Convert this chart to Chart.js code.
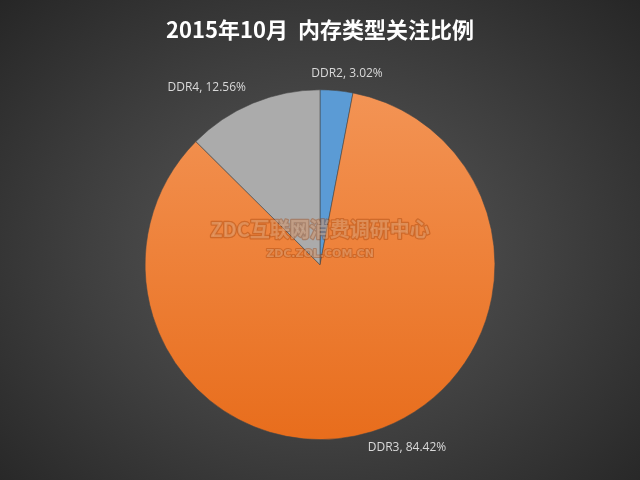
<!DOCTYPE html>
<html>
<head>
<meta charset="utf-8">
<script src="https://cdn.jsdelivr.net/npm/chart.js@4/dist/chart.umd.min.js"></script>
<style>
  html, body { margin: 0; padding: 0; }
  body {
    width: 640px; height: 480px; overflow: hidden;
    background: radial-gradient(ellipse 70% 75% at 50% 52%, #5a5a5a 0%, #3e3e3e 55%, #262626 100%);
  }
  #wrap { width: 640px; height: 480px; }
</style>
</head>
<body>
<div id="wrap"><canvas id="memChart"></canvas></div>
<script>
// 2015年10月 内存类型关注比例
const titleText = '2015年10月  内存类型关注比例';
const categories = ['DDR2', 'DDR3', 'DDR4'];
const shares = [3.02, 84.42, 12.56];
const watermarkMain = 'ZDC互联网消费调研中心';
const watermarkSub = 'ZDC.ZOL.COM.CN';

const CJK = '"Noto Sans CJK SC", "Noto Sans", sans-serif';
const sliceColors = ['#5B9BD5', null, '#ABABAB'];

// orange slice gets a soft vertical gradient like the Excel original
function sliceFill(ctx) {
    if (ctx.dataIndex !== 1) return sliceColors[ctx.dataIndex];
    const area = ctx.chart.chartArea;
    if (!area) return '#ED7D31';
    const g = ctx.chart.ctx.createLinearGradient(0, area.top, 0, area.bottom);
    g.addColorStop(0, '#F39455');
    g.addColorStop(1, '#E86D1C');
    return g;
}

const outsideLabels = {
    id: 'outsideLabels',
    afterDatasetsDraw(chart) {
        const ctx = chart.ctx;
        const meta = chart.getDatasetMeta(0);
        ctx.save();
        ctx.font = '12px "Open Sans", "Noto Sans", sans-serif';
        ctx.fillStyle = '#d9d9d9';
        ctx.textAlign = 'center';
        ctx.textBaseline = 'middle';
        meta.data.forEach((arc, i) => {
            const mid = (arc.startAngle + arc.endAngle) / 2;
            const text = categories[i] + ', ' + shares[i].toFixed(2) + '%';
            const w = ctx.measureText(text).width;
            const d = arc.outerRadius + 10;
            const x = arc.x + Math.cos(mid) * d + Math.cos(mid) * w * 1.4;
            const y = arc.y + Math.sin(mid) * d + Math.sin(mid) * 7;
            ctx.fillText(text, x, y);
        });
        ctx.restore();
    }
};

const watermark = {
    id: 'watermark',
    afterDraw(chart) {
        const ctx = chart.ctx;
        const a = chart.chartArea;
        const cx = (a.left + a.right) / 2;
        ctx.save();
        ctx.textAlign = 'center';
        ctx.textBaseline = 'middle';
        ctx.lineJoin = 'round';
        ctx.font = 'bold 20px ' + CJK;
        ctx.lineWidth = 2.5;
        ctx.strokeStyle = 'rgba(160, 65, 10, 0.4)';
        ctx.strokeText(watermarkMain, cx, 229);
        ctx.fillStyle = 'rgba(255, 225, 195, 0.3)';
        ctx.fillText(watermarkMain, cx, 229);
        ctx.font = 'bold 11px "DejaVu Sans", sans-serif';
        ctx.lineWidth = 2;
        ctx.strokeText(watermarkSub, cx, 254);
        ctx.fillText(watermarkSub, cx, 254);
        ctx.restore();
    }
};

new Chart(document.getElementById('memChart'), {
    type: 'pie',
    data: {
        labels: categories,
        datasets: [{
            data: shares,
            backgroundColor: sliceFill,
            borderColor: 'rgba(70, 70, 70, 0.7)',
            borderWidth: 0.8
        }]
    },
    options: {
        responsive: true,
        maintainAspectRatio: false,
        animation: false,
        layout: { padding: { top: 0, bottom: 40, left: 0, right: 0 } },
        plugins: {
            legend: { display: false },
            tooltip: { enabled: false },
            title: {
                display: true,
                text: titleText,
                color: '#ffffff',
                font: { family: CJK, size: 22, weight: 'bold' },
                padding: { top: 16, bottom: 47 }
            }
        }
    },
    plugins: [outsideLabels, watermark]
});
</script>
</body>
</html>
